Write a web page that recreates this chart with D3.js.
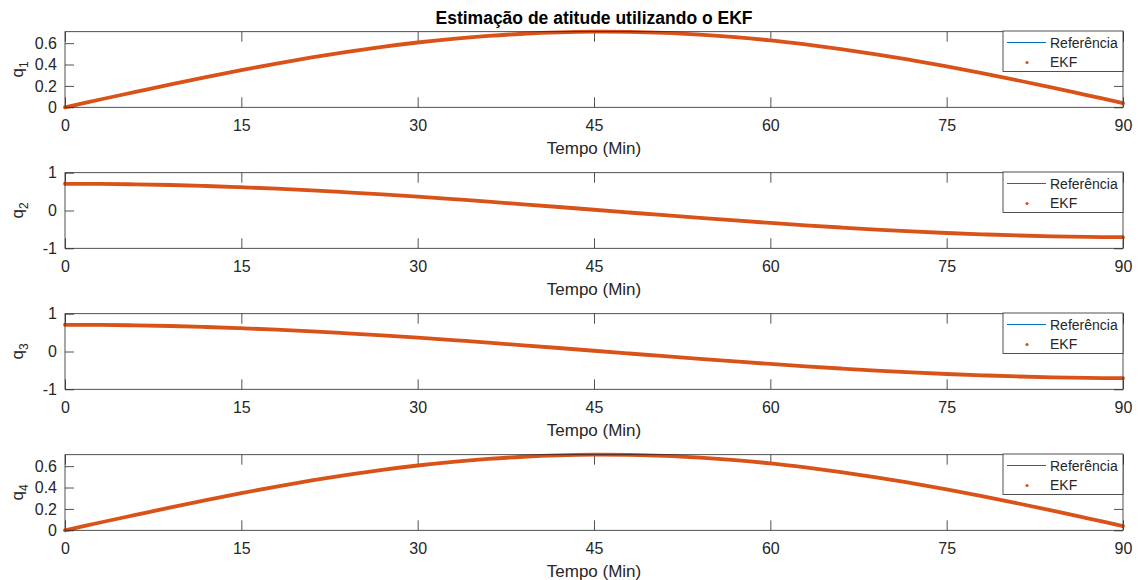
<!DOCTYPE html>
<html>
<head>
<meta charset="utf-8">
<script src="https://cdn.jsdelivr.net/npm/d3@7"></script>
<style>
  html, body { margin: 0; padding: 0; background: #fff; }
  svg { display: block; font-family: "Liberation Sans", Arial, Helvetica, sans-serif; }
</style>
</head>
<body>
<svg id="chart" width="1141" height="580"></svg>
<script>
// Time samples (minutes)
const tempo = [0, 3, 6, 9, 12, 15, 18, 21, 24, 27, 30, 33, 36, 39, 42, 45,
               48, 51, 54, 57, 60, 63, 66, 69, 72, 75, 78, 81, 84, 87, 90];

// Reference quaternion components
const q1Ref = [0.000, 0.073, 0.144, 0.215, 0.283, 0.348, 0.409, 0.466, 0.518, 0.565, 0.606,
               0.640, 0.667, 0.688, 0.701, 0.707, 0.705, 0.696, 0.679, 0.656, 0.626,
               0.588, 0.545, 0.496, 0.441, 0.383, 0.320, 0.253, 0.184, 0.112, 0.040];
const q2Ref = [0.707, 0.703, 0.692, 0.674, 0.648, 0.616, 0.577, 0.532, 0.481, 0.425, 0.365,
               0.301, 0.234, 0.164, 0.093, 0.020, -0.053, -0.125, -0.196, -0.264, -0.330,
               -0.393, -0.450, -0.504, -0.552, -0.595, -0.630, -0.660, -0.683, -0.698, -0.706];
const q3Ref = [0.707, 0.703, 0.692, 0.674, 0.648, 0.616, 0.577, 0.532, 0.481, 0.425, 0.365,
               0.301, 0.234, 0.164, 0.093, 0.020, -0.053, -0.125, -0.196, -0.264, -0.330,
               -0.393, -0.450, -0.504, -0.552, -0.595, -0.630, -0.660, -0.683, -0.698, -0.706];
const q4Ref = [0.000, 0.073, 0.144, 0.215, 0.283, 0.348, 0.409, 0.466, 0.518, 0.565, 0.606,
               0.640, 0.667, 0.688, 0.701, 0.707, 0.705, 0.696, 0.679, 0.656, 0.626,
               0.588, 0.545, 0.496, 0.441, 0.383, 0.320, 0.253, 0.184, 0.112, 0.040];

// EKF estimates (follow the reference closely)
const q1Ekf = [0.000, 0.073, 0.144, 0.215, 0.283, 0.348, 0.409, 0.466, 0.518, 0.565, 0.606,
               0.640, 0.667, 0.688, 0.701, 0.707, 0.705, 0.696, 0.679, 0.656, 0.626,
               0.588, 0.545, 0.496, 0.441, 0.383, 0.320, 0.253, 0.184, 0.112, 0.040];
const q2Ekf = [0.707, 0.703, 0.692, 0.674, 0.648, 0.616, 0.577, 0.532, 0.481, 0.425, 0.365,
               0.301, 0.234, 0.164, 0.093, 0.020, -0.053, -0.125, -0.196, -0.264, -0.330,
               -0.393, -0.450, -0.504, -0.552, -0.595, -0.630, -0.660, -0.683, -0.698, -0.706];
const q3Ekf = [0.707, 0.703, 0.692, 0.674, 0.648, 0.616, 0.577, 0.532, 0.481, 0.425, 0.365,
               0.301, 0.234, 0.164, 0.093, 0.020, -0.053, -0.125, -0.196, -0.264, -0.330,
               -0.393, -0.450, -0.504, -0.552, -0.595, -0.630, -0.660, -0.683, -0.698, -0.706];
const q4Ekf = [0.000, 0.073, 0.144, 0.215, 0.283, 0.348, 0.409, 0.466, 0.518, 0.565, 0.606,
               0.640, 0.667, 0.688, 0.701, 0.707, 0.705, 0.696, 0.679, 0.656, 0.626,
               0.588, 0.545, 0.496, 0.441, 0.383, 0.320, 0.253, 0.184, 0.112, 0.040];

// Axis ticks
const xTicks = [0, 15, 30, 45, 60, 75, 90];
const yTicksPos = [0, 0.2, 0.4, 0.6];
const yTicksSym = [-1, 0, 1];

const titulo = "Estimação de atitude utilizando o EKF";
const xLabel = "Tempo (Min)";
const legendLabels = ["Referência", "EKF"];

const panels = [
  { sub: "1", ref: q1Ref, ekf: q1Ekf, domain: [0, 0.707], ticks: yTicksPos },
  { sub: "2", ref: q2Ref, ekf: q2Ekf, domain: [-1, 1], ticks: yTicksSym },
  { sub: "3", ref: q3Ref, ekf: q3Ekf, domain: [-1, 1], ticks: yTicksSym },
  { sub: "4", ref: q4Ref, ekf: q4Ekf, domain: [0, 0.707], ticks: yTicksPos }
];

const COL_AX = "#262626";
const COL_REF = "#0072BD";
const COL_EKF = "#D95319";

const svg = d3.select("#chart");
svg.append("rect").attr("width", 1141).attr("height", 580).attr("fill", "#fff");

const left = 65, right = 1123;
const panelTop0 = 31.7, panelStep = 141, panelH = 75.6;

const x = d3.scaleLinear().domain([0, 90]).range([left, right]);

panels.forEach((p, i) => {
  const top = panelTop0 + i * panelStep;
  const bottom = top + panelH;
  const y = d3.scaleLinear().domain(p.domain).range([bottom, top]);
  const g = svg.append("g");

  const fmt = d => String(d);

  // bottom axis with labels
  const gb = g.append("g").attr("transform", `translate(0,${bottom})`)
    .call(d3.axisBottom(x).tickValues(xTicks).tickSizeInner(-10).tickSizeOuter(0).tickPadding(12).tickFormat(fmt));
  // top axis (ticks only)
  const gt = g.append("g").attr("transform", `translate(0,${top})`)
    .call(d3.axisTop(x).tickValues(xTicks).tickSizeInner(-10).tickSizeOuter(0).tickFormat(""));
  // left axis with labels
  const gl = g.append("g").attr("transform", `translate(${left},0)`)
    .call(d3.axisLeft(y).tickValues(p.ticks).tickSizeInner(-9).tickSizeOuter(0).tickPadding(8).tickFormat(fmt));
  // right axis (ticks only)
  const gr = g.append("g").attr("transform", `translate(${right},0)`)
    .call(d3.axisRight(y).tickValues(p.ticks).tickSizeInner(-9).tickSizeOuter(0).tickFormat(""));

  [gb, gt, gl, gr].forEach(a => {
    a.select(".domain").remove();
    a.selectAll(".tick line").attr("stroke", COL_AX).attr("stroke-width", 0.8);
    a.selectAll(".tick text").attr("fill", COL_AX).style("font-size", "16px")
      .style("font-family", '"Liberation Sans", Arial, Helvetica, sans-serif');
  });

  // data
  const line = d3.line().x((d, k) => x(tempo[k])).y(d => y(d)).curve(d3.curveCatmullRom.alpha(0.5));
  g.append("path").datum(p.ref).attr("d", line)
    .attr("fill", "none").attr("stroke", COL_REF).attr("stroke-width", 1);
  g.append("path").datum(p.ekf).attr("d", line)
    .attr("fill", "none").attr("stroke", COL_EKF).attr("stroke-width", 3.8)
    .attr("stroke-linecap", "round").attr("stroke-linejoin", "round");

  // box
  g.append("rect").attr("x", left).attr("y", top).attr("width", right - left).attr("height", panelH)
    .attr("fill", "none").attr("stroke", COL_AX).attr("stroke-width", 0.8);

  // x label
  g.append("text").attr("x", (left + right) / 2).attr("y", bottom + 46.2)
    .attr("text-anchor", "middle").attr("fill", COL_AX).style("font-size", "17px").text(xLabel);

  // y label q_i (rotated)
  const yl = g.append("text")
    .attr("transform", `translate(23,${(top + bottom) / 2}) rotate(-90)`)
    .attr("text-anchor", "middle").attr("fill", COL_AX).style("font-size", "17px");
  yl.append("tspan").text("q");
  yl.append("tspan").attr("dy", 5).style("font-size", "12px").text(p.sub);

  // legend
  const lx = 1003, ly = top - 0.7, lw = right - lx, lh = 40.5;
  const lg = g.append("g");
  lg.append("rect").attr("x", lx).attr("y", ly).attr("width", lw).attr("height", lh)
    .attr("fill", "#fff").attr("stroke", COL_AX).attr("stroke-width", 0.8);
  lg.append("line").attr("x1", lx + 4).attr("x2", lx + 43).attr("y1", ly + 11.5).attr("y2", ly + 11.5)
    .attr("stroke", COL_REF).attr("stroke-width", 1);
  lg.append("circle").attr("cx", lx + 24).attr("cy", ly + 31.5).attr("r", 1.6).attr("fill", COL_EKF);
  lg.append("text").attr("x", lx + 47).attr("y", ly + 16.5).attr("fill", COL_AX)
    .style("font-size", "14px").text(legendLabels[0]);
  lg.append("text").attr("x", lx + 47).attr("y", ly + 36).attr("fill", COL_AX)
    .style("font-size", "14px").text(legendLabels[1]);
});

// title
svg.append("text").attr("x", (left + right) / 2).attr("y", 24)
  .attr("text-anchor", "middle").attr("fill", "#000").style("font-size", "17.5px")
  .style("font-weight", "bold").text(titulo);
</script>
</body>
</html>
